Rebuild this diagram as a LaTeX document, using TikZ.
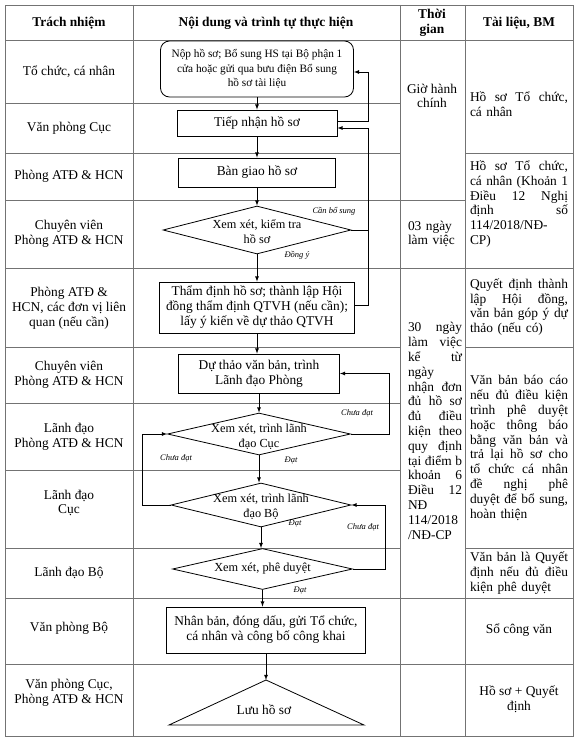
\documentclass[tikz,border=0pt]{standalone}
\usepackage{fontspec}
\setmainfont{Liberation Serif}
\usepackage{tikz}
\usetikzlibrary{shapes,arrows,positioning}
\newcommand{\jc}[1]{{\spaceskip=0pt\xspaceskip=0pt\makebox[54pt][s]{#1}}}
\newcommand{\jd}[1]{{\spaceskip=0pt\xspaceskip=0pt\makebox[98pt][s]{#1}}}

\begin{document}
\begin{tikzpicture}[x=1pt,y=-1pt,
  tbl/.style={draw=black!55, line width=0.8pt},
  txt/.style={font=\fontsize{13.4}{14.8}\selectfont, align=center, inner sep=0pt},
  hd/.style={inner sep=0pt, align=center, font=\fontsize{13.4}{15}\selectfont\bfseries},
  jtxt/.style={txt, align=left},
  box/.style={draw, line width=0.8pt, rectangle, inner sep=0pt, align=center, font=\fontsize{13.4}{15}\selectfont},
  rbox/.style={box, rounded corners=9pt, font=\fontsize{11.3}{14.7}\selectfont},
  dec/.style={draw, line width=0.8pt, diamond, inner sep=0pt},
  dtxt/.style={align=center, inner sep=0pt, font=\fontsize{12.3}{15}\selectfont},
  lbl/.style={font=\fontsize{8.5}{9}\selectfont\itshape, inner sep=0pt},
  arr/.style={-latex, line width=0.8pt},
  ln/.style={line width=0.8pt}]
\useasboundingbox (0,0) rectangle (575,741);
\fill[white] (0,0) rectangle (575,741);

\draw[tbl] (5,5) rectangle (573,736);
\draw[tbl] (133,5) -- (133,736);
\draw[tbl] (400,5) -- (400,736);
\draw[tbl] (465,5) -- (465,736);
\draw[tbl] (5,40) -- (573,40);
\draw[tbl] (5,103) -- (400,103);
\draw[tbl] (5,153) -- (400,153) (465,153) -- (573,153);
\draw[tbl] (5,200) -- (465,200);
\draw[tbl] (5,268) -- (573,268);
\draw[tbl] (5,347) -- (400,347) (465,347) -- (573,347);
\draw[tbl] (5,403) -- (400,403);
\draw[tbl] (5,470) -- (400,470);
\draw[tbl] (5,548) -- (400,548) (465,548) -- (573,548);
\draw[tbl] (5,598) -- (573,598);
\draw[tbl] (5,664) -- (573,664);

\node[hd] (h1) at (69,23) {Trách nhiệm};
\node[hd] (h2) at (266,23) {Nội dung và trình tự thực hiện};
\node[hd] (h3) at (432,22.5) {Thời\\gian};
\node[hd] (h4) at (519,23) {Tài liệu, BM};

\node[txt] (p1) at (69,71.5) {Tổ chức, cá nhân};
\node[txt] (p2) at (69,128) {Văn phòng Cục};
\node[txt] (p3) at (69,176.5) {Phòng ATĐ \& HCN};
\node[txt] (p4) at (69,234) {Chuyên viên\\Phòng ATĐ \& HCN};
\node[txt] (p5) at (69,308) {Phòng ATĐ \&\\HCN, các đơn vị liên\\quan (nếu cần)};
\node[txt] (p6) at (69,375) {Chuyên viên\\Phòng ATĐ \& HCN};
\node[txt] (p7) at (69,437) {Lãnh đạo\\Phòng ATĐ \& HCN};
\node[txt] (p8) at (69,503) {Lãnh đạo\\Cục};
\node[txt] (p9) at (69,573) {Lãnh đạo Bộ};
\node[txt] (p10) at (69,628) {Văn phòng Bộ};
\node[txt] (p11) at (69,693) {Văn phòng Cục,\\Phòng ATĐ \& HCN};

\node[rbox, minimum width=193pt, minimum height=56pt] (nop) at (257,69) {Nộp hồ sơ; Bổ sung HS tại Bộ phận 1\\cửa hoặc gửi qua bưu điện Bổ sung\\hồ sơ tài liệu};
\node[box, minimum width=160pt, minimum height=26pt] (tiep) at (257,123) {Tiếp nhận hồ sơ};
\node[box, minimum width=157pt, minimum height=29pt] (bgiao) at (257,172.5) {Bàn giao hồ sơ};
\node[dec, minimum width=188pt, minimum height=48pt] (d1) at (257,230) {};
\node[dtxt] (d1t) at (257,231.5) {Xem xét, kiểm tra\\hồ sơ};
\node[box, minimum width=195pt, minimum height=51pt] (tham) at (257,307.5) {Thẩm định hồ sơ; thành lập Hội\\đồng thẩm định QTVH (nếu cần);\\lấy ý kiến về dự thảo QTVH};
\node[box, minimum width=161pt, minimum height=39pt] (duthao) at (259,373.5) {Dự thảo văn bản, trình\\Lãnh đạo Phòng};
\node[dec, minimum width=183pt, minimum height=42pt] (d2) at (259,434) {};
\node[dtxt] (d2t) at (259,437) {Xem xét, trình lãnh\\đạo Cục};
\node[dec, minimum width=180pt, minimum height=44pt] (d3) at (261,505) {};
\node[dtxt] (d3t) at (261,506.5) {Xem xét, trình lãnh\\đạo Bộ};
\node[dec, minimum width=180pt, minimum height=41pt] (d4) at (262.5,569) {};
\node[dtxt] (d4t) at (262.5,569) {Xem xét, phê duyệt};
\node[box, minimum width=199pt, minimum height=46pt] (nhan) at (266,630) {Nhân bản, đóng dấu, gửi Tổ chức,\\cá nhân và công bố công khai};
\coordinate (luu) at (266,680);
\draw[ln] (luu) -- (364,725) -- (169,725) -- cycle;
\node[txt] (luut) at (264,710) {Lưu hồ sơ};

\draw[arr] (nop.south) -- (tiep.north);
\draw[arr] (tiep.south) -- (bgiao.north);
\draw[arr] (bgiao.south) -- (d1.north);
\draw[arr] (d1.south) -- (d1.south |- tham.north);
\draw[arr] (tham.south) -- (tham.south |- duthao.north);
\draw[arr] (duthao.south) -- (duthao.south |- d2.north);
\draw[arr] (d2.south) -- (d2.south |- d3.north);
\draw[arr] (d3.south) -- (d3.south |- d4.north);
\draw[arr] (d4.south) -- (d4.south |- nhan.north);
\draw[arr] (nhan.south) -- (nhan.south |- luu);

\coordinate (r1) at (368,0);
\coordinate (r2) at (389,0);
\coordinate (r3) at (385,0);
\coordinate (l1) at (142,0);
\draw[arr] ([yshift=2pt]tiep.east) -- ([yshift=2pt]tiep.east -| r1) |- ([yshift=-3pt]nop.east);
\draw[ln] (d1.east) -- (d1.east -| r1);
\draw[arr] ([yshift=2pt]tham.east) -- ([yshift=2pt]tham.east -| r1) |- ([yshift=-5pt]tiep.east);
\draw[arr] (d2.east) -- (d2.east -| r2) |- (duthao.east);
\draw[arr] (d3.west) -- (d3.west -| l1) |- (d2.west);
\draw[arr] (d4.east) -- (d4.east -| r3) |- (d3.east);

\node[lbl] (can) at (334,211) {Cần bổ sung};
\node[lbl] (dongy) at (297,255) {Đồng ý};
\node[lbl] (chua1) at (357,413) {Chưa đạt};
\node[lbl] (chua2) at (176,458) {Chưa đạt};
\node[lbl] (dat1) at (291,460) {Đạt};
\node[lbl] (dat2) at (295,523) {Đạt};
\node[lbl] (chua3) at (363,527) {Chưa đạt};
\node[lbl] (dat3) at (300,590) {Đạt};

\node[txt] (g1) at (432,96) {Giờ hành\\chính};
\node[jtxt, text width=54pt] (g2) at (435,234) {03 ngày\\làm việc};
\node[jtxt, text width=54pt] (g3) at (435,431) {\jc{30 ngày}\\\jc{làm việc}\\\jc{kể từ}\\ngày\\\jc{nhận đơn}\\\jc{đủ hồ sơ}\\\jc{đủ điều}\\\jc{kiện theo}\\\jc{quy định}\\\jc{tại điểm b}\\\jc{khoản 6}\\\jc{Điều 12}\\NĐ\\114/2018\\/NĐ-CP};

\node[jtxt, text width=98pt] (b1) at (519,104) {\jd{Hồ sơ Tổ chức,}\\cá nhân};
\node[jtxt, text width=98pt] (b2) at (519,204) {\jd{Hồ sơ Tổ chức,}\\\jd{cá nhân (Khoản 1}\\\jd{Điều 12 Nghị}\\\jd{định số}\\114/2018/NĐ-\\CP)};
\node[jtxt, text width=98pt] (b3) at (519,307) {\jd{Quyết định thành}\\\jd{lập Hội đồng,}\\\jd{văn bản góp ý dự}\\thảo (nếu có)};
\node[jtxt, text width=98pt] (b4) at (519,448) {\jd{Văn bản báo cáo}\\\jd{nếu đủ điều kiện}\\\jd{trình phê duyệt}\\\jd{hoặc thông báo}\\\jd{bằng văn bản và}\\\jd{trả lại hồ sơ cho}\\\jd{tổ chức cá nhân}\\\jd{đề nghị phê}\\\jd{duyệt để bổ sung,}\\hoàn thiện};
\node[jtxt, text width=98pt] (b5) at (519,573) {\jd{Văn bản là Quyết}\\\jd{định nếu đủ điều}\\kiện phê duyệt};
\node[txt] (b6) at (519,630) {Sổ công văn};
\node[txt] (b7) at (519,699) {Hồ sơ + Quyết\\định};
\end{tikzpicture}
\end{document}
